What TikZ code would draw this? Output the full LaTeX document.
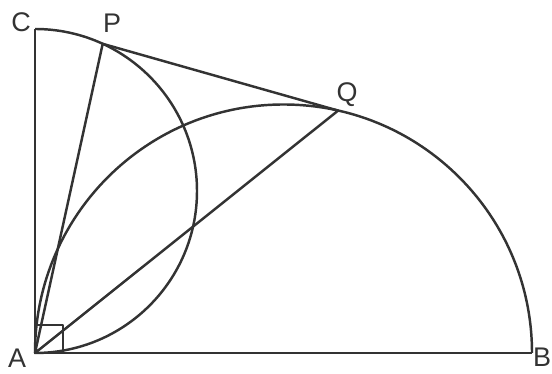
\documentclass[tikz,border=0pt]{standalone}
\usepackage{fontspec}
\setmainfont{Liberation Sans}
\usetikzlibrary{calc}

\begin{document}
\begin{tikzpicture}[x=0.03cm, y=0.03cm, line width=2.1pt, draw=black!80, line join=round,
    lbl/.style={inner sep=0pt, font=\fontsize{23}{27}\selectfont, text=black!80}]
    \useasboundingbox (-35,-21) rectangle (517,353);

    \coordinate (A) at (0,0);
    \coordinate (B) at (497,0);
    \coordinate (C) at (0,324);

    % centres of the half circles on AC and AB
    \coordinate (Oc) at ($(A)!0.5!(C)$);
    \coordinate (Ob) at ($(A)!0.5!(B)$);
    \coordinate (P) at ($(Oc)+(65.3:162)$);
    \coordinate (Q) at ($(Ob)+(77.3:248.5)$);

    \draw (C) -- (A) -- (B);
    \draw (C) arc[start angle=90, end angle=-90, radius=162];
    \draw (A) arc[start angle=180, end angle=0, radius=248.5];
    \draw (A) -- (P) -- (Q) -- cycle;
    \draw (A) rectangle (28,28);

    % labels
    \node[lbl] (labA) at (-18,-5) {A};
    \node[lbl] (labB) at (507,-4) {B};
    \node[lbl] (labC) at (-14,331) {C};
    \node[lbl] (labP) at (77,330) {P};
    \node[lbl] (labQ) at (312,258) {Q};
\end{tikzpicture}
\end{document}
